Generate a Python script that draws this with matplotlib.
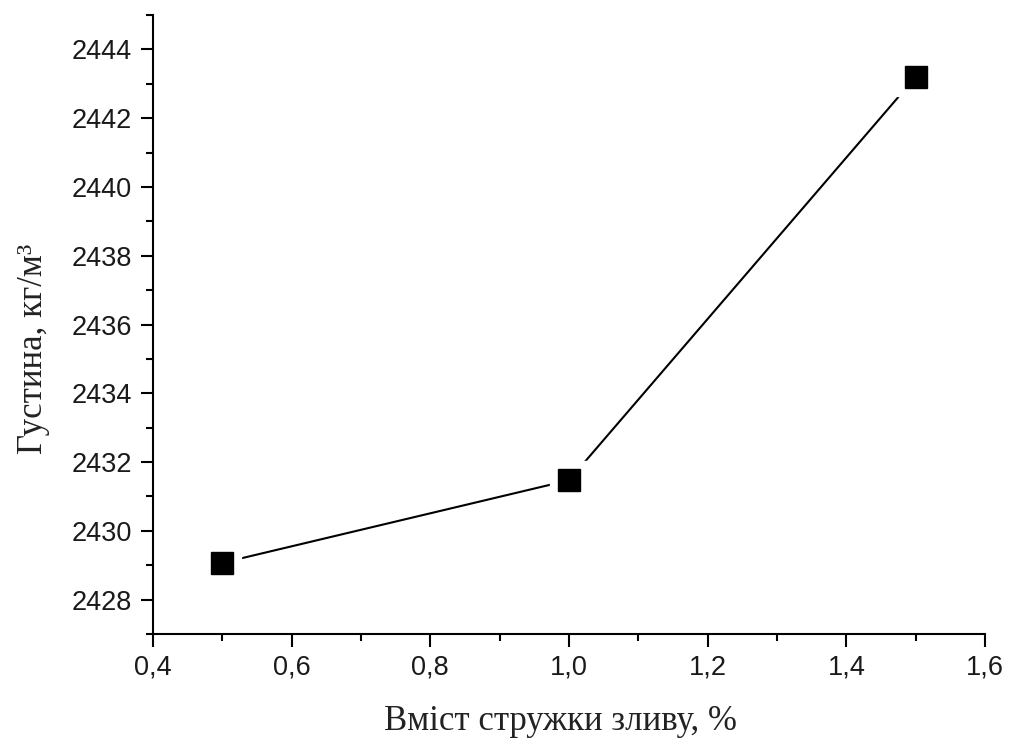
import matplotlib.pyplot as plt
from matplotlib.ticker import MultipleLocator, FuncFormatter

# content of shavings, % and density, kg/m3
content = [0.5, 1.0, 1.5]
density = [2429.07, 2431.47, 2443.2]

fig = plt.figure(figsize=(10.09, 7.43), dpi=100)
ax = fig.add_axes([0.1516, 0.1467, 0.8246, 0.8331])

# line with gaps around markers (Origin style): white halo under black squares
ax.plot(content, density, color='black', lw=1.5, zorder=1)
ax.plot(content, density, ls='none', marker='s', ms=27, mfc='white', mec='white', zorder=2)
ax.plot(content, density, ls='none', marker='s', ms=16, mfc='black', mec='black', zorder=3)

ax.set_xlim(0.4, 1.6)
ax.set_ylim(2427, 2445)
ax.xaxis.set_major_locator(MultipleLocator(0.2))
ax.xaxis.set_minor_locator(MultipleLocator(0.1))
ax.yaxis.set_major_locator(MultipleLocator(2))
ax.yaxis.set_minor_locator(MultipleLocator(1))
ax.xaxis.set_major_formatter(FuncFormatter(lambda v, p: f'{v:.1f}'.replace('.', ',')))
ax.yaxis.set_major_formatter(FuncFormatter(lambda v, p: f'{v:.0f}'))

for s in ['top', 'right']:
    ax.spines[s].set_visible(False)
for s in ['left', 'bottom']:
    ax.spines[s].set_linewidth(1.5)

ax.tick_params(which='major', direction='out', length=9, width=1.5, pad=6,
               labelsize=19.5, labelcolor='#1a1a1a')
ax.tick_params(which='minor', direction='out', length=5, width=1.5)
for lab in ax.get_xticklabels() + ax.get_yticklabels():
    lab.set_fontfamily('Liberation Sans')

ax.set_xlabel('Вміст стружки зливу, %', fontfamily='Liberation Serif', fontsize=25,
              color='#222222')
ax.set_ylabel('Густина, кг/м³', fontfamily='Liberation Serif', fontsize=25,
              color='#222222')
ax.xaxis.set_label_coords(0.49, -0.115)
ax.yaxis.set_label_coords(-0.124, 0.46)

fig.savefig('out.png', dpi=100)
